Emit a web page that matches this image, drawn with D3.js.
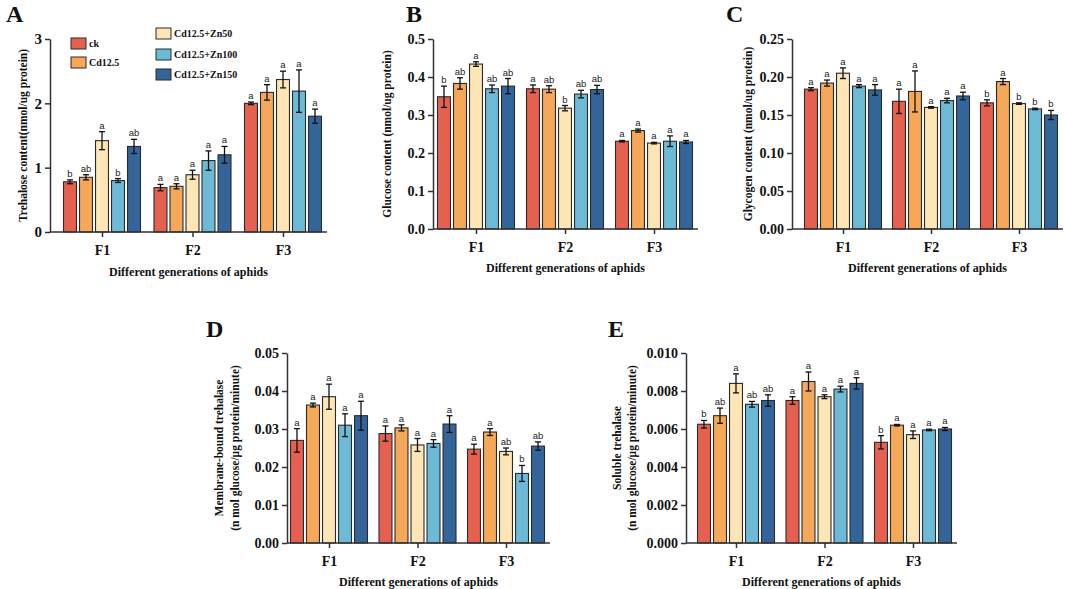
<!DOCTYPE html>
<html>
<head>
<meta charset="utf-8">
<script src="https://cdn.jsdelivr.net/npm/d3@7"></script>
<style>
  body { margin: 0; background: #fff; }
  svg text { font-family: "Liberation Serif", "Times New Roman", serif; }
  .sig { font-family: "Liberation Sans", Arial, sans-serif !important; }
</style>
</head>
<body>
<script>
// aphid sugar / trehalase figure, five panels
var generations = ["F1", "F2", "F3"];
var treatments = ["ck", "Cd12.5", "Cd12.5+Zn50", "Cd12.5+Zn100", "Cd12.5+Zn150"];
var colors = ["#E6604F", "#F5A857", "#FDE5B5", "#6DBAD7", "#34659A"];

// A - trehalose
var trehaloseMean = [[0.78, 0.85, 1.42, 0.80, 1.33], [0.69, 0.71, 0.89, 1.11, 1.20], [2.00, 2.17, 2.37, 2.19, 1.80]];
var trehaloseErr  = [[0.03, 0.04, 0.14, 0.03, 0.11], [0.05, 0.04, 0.07, 0.15, 0.13], [0.02, 0.12, 0.13, 0.33, 0.11]];
var trehaloseSig  = [["b", "ab", "a", "b", "ab"], ["a", "a", "a", "a", "a"], ["a", "a", "a", "a", "a"]];
var trehaloseTicks = [0, 1, 2, 3];

// B - glucose
var glucoseMean = [[0.348, 0.383, 0.434, 0.369, 0.376], [0.369, 0.368, 0.318, 0.355, 0.367], [0.231, 0.259, 0.226, 0.231, 0.229]];
var glucoseErr  = [[0.028, 0.015, 0.006, 0.010, 0.020], [0.010, 0.009, 0.007, 0.010, 0.011], [0.002, 0.004, 0.002, 0.014, 0.004]];
var glucoseSig  = [["b", "ab", "a", "ab", "ab"], ["a", "ab", "b", "ab", "ab"], ["a", "a", "a", "a", "a"]];
var glucoseTicks = [0, 0.1, 0.2, 0.3, 0.4, 0.5];

// C - glycogen
var glycogenMean = [[0.184, 0.192, 0.205, 0.188, 0.183], [0.168, 0.181, 0.160, 0.169, 0.175], [0.166, 0.194, 0.165, 0.158, 0.150]];
var glycogenErr  = [[0.002, 0.004, 0.007, 0.002, 0.007], [0.016, 0.027, 0.001, 0.003, 0.005], [0.004, 0.004, 0.001, 0.001, 0.006]];
var glycogenSig  = [["a", "a", "a", "a", "a"], ["a", "a", "a", "a", "a"], ["b", "a", "b", "b", "b"]];
var glycogenTicks = [0, 0.05, 0.10, 0.15, 0.20, 0.25];

// D - membrane-bound trehalase
var membraneMean = [[0.0270, 0.0363, 0.0385, 0.0310, 0.0335], [0.0288, 0.0303, 0.0258, 0.0262, 0.0313], [0.0247, 0.0292, 0.0241, 0.0183, 0.0255]];
var membraneErr  = [[0.0031, 0.0005, 0.0033, 0.0030, 0.0038], [0.0020, 0.0008, 0.0017, 0.0010, 0.0022], [0.0013, 0.0009, 0.0009, 0.0021, 0.0011]];
var membraneSig  = [["a", "a", "a", "a", "a"], ["a", "a", "a", "a", "a"], ["a", "a", "ab", "b", "ab"]];
var membraneTicks = [0, 0.01, 0.02, 0.03, 0.04, 0.05];

// E - soluble trehalase
var solubleMean = [[0.00625, 0.0067, 0.0084, 0.0073, 0.0075], [0.0075, 0.0085, 0.0077, 0.0081, 0.0084], [0.0053, 0.0062, 0.0057, 0.00595, 0.0060]];
var solubleErr  = [[0.0002, 0.0004, 0.0005, 0.00015, 0.0003], [0.0002, 0.0005, 0.0001, 0.00015, 0.0003], [0.00035, 0.00004, 0.0002, 0.00004, 0.00008]];
var solubleSig  = [["b", "ab", "a", "ab", "ab"], ["a", "a", "a", "a", "a"], ["b", "a", "a", "a", "a"]];
var solubleTicks = [0, 0.002, 0.004, 0.006, 0.008, 0.010];

var svg = d3.select("body").append("svg")
    .attr("width", 1065)
    .attr("height", 589);

var axisColor = "#333";

function panel(o) {
  var g = svg.append("g");

  var y = d3.scaleLinear()
      .domain([0, d3.max(o.ticks)])
      .range([o.yBot, o.yTop]);

  var x = d3.scalePoint()
      .domain(generations)
      .range([o.x0 + o.firstOff, o.x1 - 44]);

  // bars inside a group
  var sub = d3.scaleBand()
      .domain(treatments)
      .range([-38.5, 38.5])
      .paddingInner(0.19);

  var rows = [];
  generations.forEach(function(gen, i) {
    treatments.forEach(function(t, j) {
      rows.push({gen: gen, t: t, j: j, v: o.mean[i][j], e: o.err[i][j], s: o.sig[i][j]});
    });
  });

  g.selectAll("rect.bar")
      .data(rows)
      .enter()
      .append("rect")
      .attr("class", "bar")
      .attr("x", function(d) { return x(d.gen) + sub(d.t); })
      .attr("width", sub.bandwidth())
      .attr("y", function(d) { return y(d.v); })
      .attr("height", function(d) { return o.yBot - y(d.v); })
      .attr("fill", function(d) { return colors[d.j]; })
      .attr("stroke", "#2a2a2a")
      .attr("stroke-width", 1.1);

  // error bars
  var eb = g.selectAll("g.err")
      .data(rows)
      .enter()
      .append("g")
      .attr("class", "err")
      .attr("stroke", "#111")
      .attr("stroke-width", 1.3);
  eb.append("line")
      .attr("x1", function(d) { return x(d.gen) + sub(d.t) + sub.bandwidth() / 2; })
      .attr("x2", function(d) { return x(d.gen) + sub(d.t) + sub.bandwidth() / 2; })
      .attr("y1", function(d) { return y(d.v - d.e); })
      .attr("y2", function(d) { return y(d.v + d.e); });
  [-1, 1].forEach(function(k) {
    eb.append("line")
        .attr("x1", function(d) { return x(d.gen) + sub(d.t) + sub.bandwidth() / 2 - 3; })
        .attr("x2", function(d) { return x(d.gen) + sub(d.t) + sub.bandwidth() / 2 + 3; })
        .attr("y1", function(d) { return y(d.v + k * d.e); })
        .attr("y2", function(d) { return y(d.v + k * d.e); });
  });

  g.selectAll("text.sig")
      .data(rows)
      .enter()
      .append("text")
      .attr("class", "sig")
      .attr("x", function(d) { return x(d.gen) + sub(d.t) + sub.bandwidth() / 2; })
      .attr("y", function(d) { return y(d.v + d.e) - 3; })
      .attr("text-anchor", "middle")
      .attr("font-size", 9.5)
      .attr("fill", "#222")
      .text(function(d) { return d.s; });

  // y axis
  var yAxis = d3.axisLeft(y)
      .tickValues(o.ticks)
      .tickFormat(d3.format(o.fmt))
      .tickSize(5)
      .tickSizeOuter(0);
  var ya = g.append("g")
      .attr("transform", "translate(" + o.x0 + ",0)")
      .call(yAxis);
  ya.select(".domain").attr("stroke", axisColor).attr("stroke-width", 1.5);
  ya.selectAll(".tick line").attr("stroke", axisColor).attr("stroke-width", 1.5);
  ya.selectAll(".tick text")
      .attr("font-family", "Liberation Serif, serif")
      .attr("font-weight", "bold")
      .attr("font-size", o.tickSize)
      .attr("fill", "#111");

  // x axis
  var xAxis = d3.axisBottom(x).tickSize(5).tickSizeOuter(0);
  var xa = g.append("g")
      .attr("transform", "translate(0," + o.yBot + ")")
      .call(xAxis);
  xa.select(".domain")
      .attr("d", "M" + o.x0 + ",0H" + o.x1)
      .attr("stroke", axisColor).attr("stroke-width", 1.5);
  xa.selectAll(".tick line").attr("stroke", axisColor).attr("stroke-width", 1.5);
  xa.selectAll(".tick text")
      .attr("font-family", "Liberation Serif, serif")
      .attr("font-weight", "bold")
      .attr("font-size", 14)
      .attr("dy", 0)
      .attr("y", o.fLabelY - o.yBot)
      .attr("fill", "#111");

  g.append("text")
      .attr("x", (o.x0 + o.x1) / 2)
      .attr("y", o.xTitleY)
      .attr("text-anchor", "middle")
      .attr("font-weight", "bold")
      .attr("font-size", 12)
      .attr("fill", "#111")
      .text("Different generations of aphids");

  // y title, one or two lines
  o.yTitle.forEach(function(line, i) {
    var tx = o.yTitleX[i], ty = (o.yTop + o.yBot) / 2;
    g.append("text")
        .attr("transform", "translate(" + tx + "," + ty + ") rotate(-90)")
        .attr("text-anchor", "middle")
        .attr("dy", "0.35em")
        .attr("font-weight", "bold")
        .attr("font-size", 11.5)
        .attr("fill", "#111")
        .text(line);
  });

  g.append("text")
      .attr("x", o.labelX)
      .attr("y", o.labelY)
      .attr("font-weight", "bold")
      .attr("font-size", 24)
      .attr("fill", "#111")
      .text(o.label);

  return g;
}

panel({label: "A", labelX: 6, labelY: 22,
  mean: trehaloseMean, err: trehaloseErr, sig: trehaloseSig, ticks: trehaloseTicks, fmt: "d", tickSize: 15,
  x0: 50, x1: 327, firstOff: 52, yTop: 39, yBot: 232, fLabelY: 255, xTitleY: 276,
  yTitle: ["Trehalose content(nmol/ug protein)"], yTitleX: [23]});

panel({label: "B", labelX: 406, labelY: 22,
  mean: glucoseMean, err: glucoseErr, sig: glucoseSig, ticks: glucoseTicks, fmt: ".1f", tickSize: 14,
  x0: 433, x1: 698, firstOff: 43, yTop: 39, yBot: 229, fLabelY: 252, xTitleY: 272,
  yTitle: ["Glucose content (nmol/ug protein)"], yTitleX: [387]});

panel({label: "C", labelX: 726, labelY: 22,
  mean: glycogenMean, err: glycogenErr, sig: glycogenSig, ticks: glycogenTicks, fmt: ".2f", tickSize: 14,
  x0: 792, x1: 1063, firstOff: 51, yTop: 39, yBot: 229, fLabelY: 252, xTitleY: 272,
  yTitle: ["Glycogen content (nmol/ug protein)"], yTitleX: [748]});

panel({label: "D", labelX: 206, labelY: 337,
  mean: membraneMean, err: membraneErr, sig: membraneSig, ticks: membraneTicks, fmt: ".2f", tickSize: 14,
  x0: 287, x1: 550, firstOff: 42, yTop: 353, yBot: 543, fLabelY: 566, xTitleY: 586,
  yTitle: ["Membrane-bound trehalase", "(n mol glucose/\u03bcg protein/minute)"], yTitleX: [219, 235]});

panel({label: "E", labelX: 608, labelY: 337,
  mean: solubleMean, err: solubleErr, sig: solubleSig, ticks: solubleTicks, fmt: ".3f", tickSize: 14,
  x0: 686, x1: 957, firstOff: 50, yTop: 353, yBot: 543, fLabelY: 566, xTitleY: 586,
  yTitle: ["Soluble trehalase", "(n mol glucose/\u03bcg protein/minute)"], yTitleX: [617, 632]});

// legend in panel A, two columns
var legendPos = [[71, 38], [71, 57], [156, 28], [156, 49], [156, 69]];
var lg = svg.selectAll("g.legend")
    .data(treatments)
    .enter()
    .append("g")
    .attr("class", "legend")
    .attr("transform", function(d, i) { return "translate(" + legendPos[i][0] + "," + legendPos[i][1] + ")"; });
lg.append("rect")
    .attr("width", 15)
    .attr("height", 11)
    .attr("fill", function(d, i) { return colors[i]; })
    .attr("stroke", "#2a2a2a")
    .attr("stroke-width", 1);
lg.append("text")
    .attr("x", 18)
    .attr("y", 5.5)
    .attr("dy", "0.35em")
    .attr("font-size", 10)
    .attr("font-weight", "bold")
    .attr("fill", "#111")
    .text(function(d) { return d; });
</script>
</body>
</html>
